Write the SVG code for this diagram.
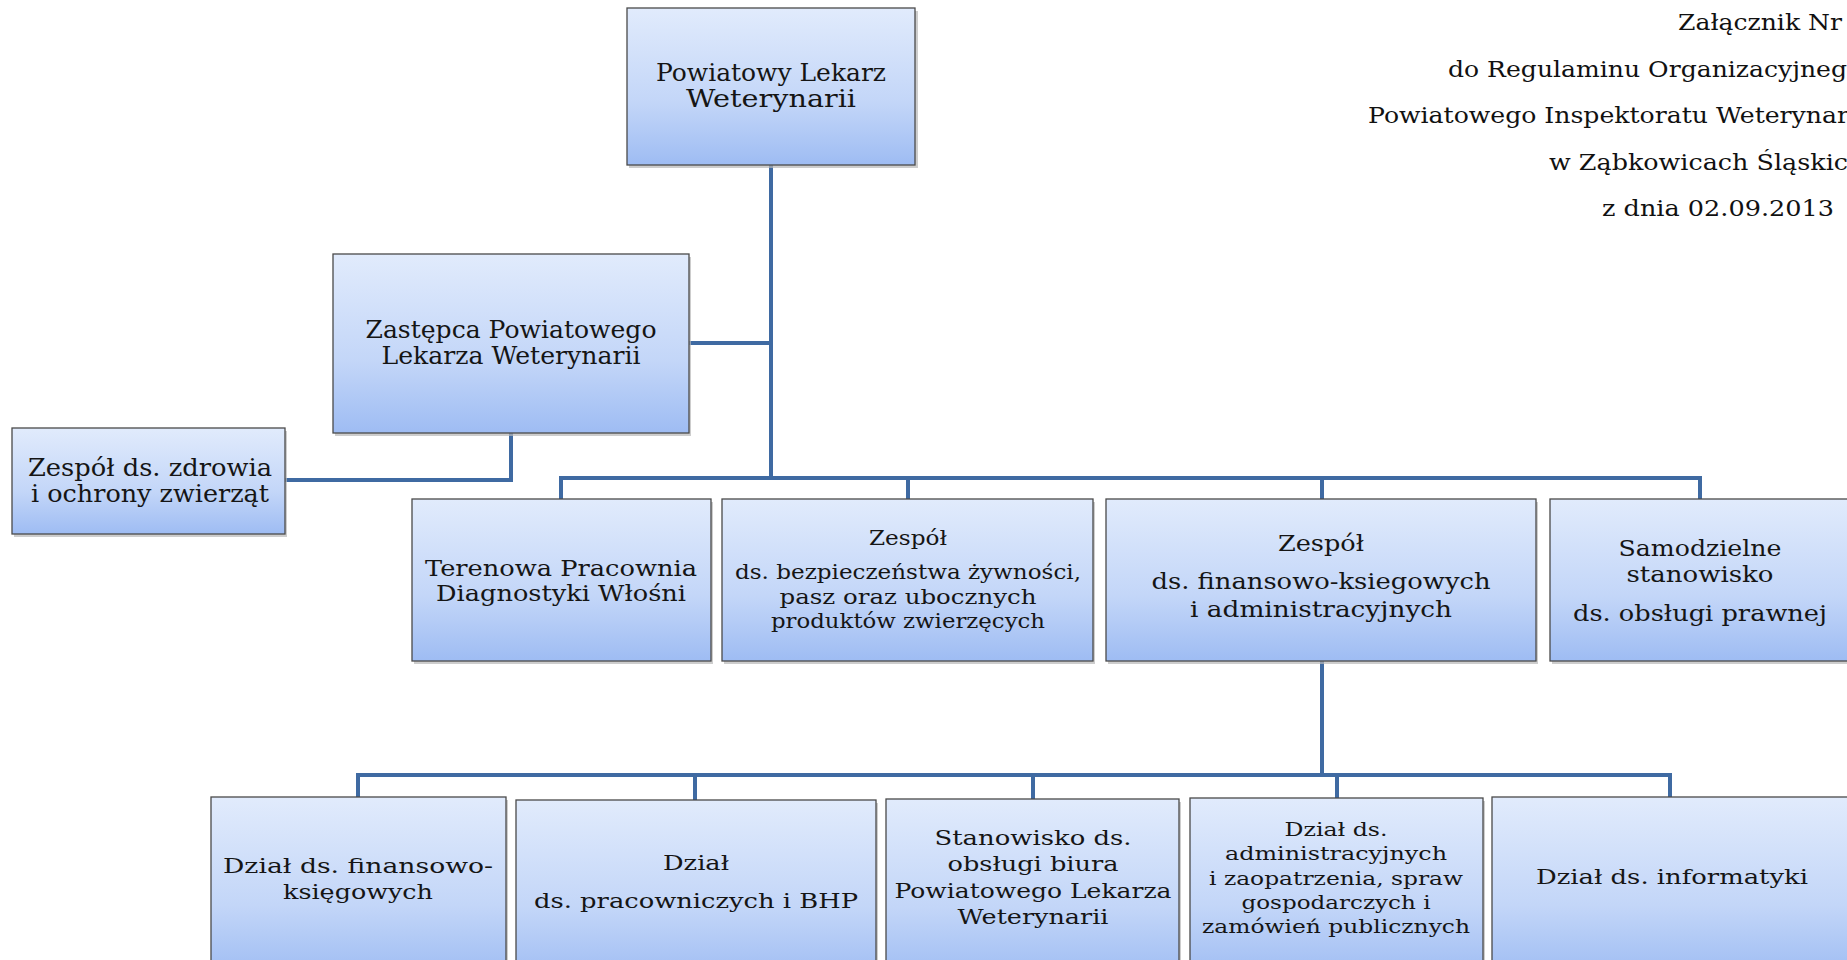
<svg xmlns="http://www.w3.org/2000/svg" width="1847" height="960" viewBox="0 0 1847 960">
<defs>
<linearGradient id="g" x1="0" y1="0" x2="0" y2="1">
<stop offset="0" stop-color="#e1ebfc"/>
<stop offset="0.6" stop-color="#c3d6f8"/>
<stop offset="1" stop-color="#9ebcf3"/>
</linearGradient>
<style>
.box{fill:url(#g);stroke:#4a4a4a;stroke-width:1.3}
.sh{fill:#b8b8b8;opacity:0.7}
.t{font-family:"DejaVu Serif","Liberation Serif",serif;fill:#151515;text-anchor:middle}
.h{font-family:"DejaVu Serif","Liberation Serif",serif;fill:#111;font-size:23px}
.c{fill:none;stroke:#3f6aa2;stroke-width:4;stroke-linejoin:miter}
</style>
</defs>
<rect width="1847" height="960" fill="#fff"/>

<g id="header">
<text class="h" x="1678" y="30" textLength="164" lengthAdjust="spacingAndGlyphs">Załącznik Nr</text>
<text class="h" x="1448" y="77" textLength="399" lengthAdjust="spacingAndGlyphs">do Regulaminu Organizacyjneg</text>
<text class="h" x="1368" y="123" textLength="481" lengthAdjust="spacingAndGlyphs">Powiatowego Inspektoratu Weterynar</text>
<text class="h" x="1549" y="170" textLength="299" lengthAdjust="spacingAndGlyphs">w Ząbkowicach Śląskic</text>
<text class="h" x="1602" y="216" textLength="232" lengthAdjust="spacingAndGlyphs">z dnia 02.09.2013</text>
</g>

<g id="connectors">
<path class="c" d="M771 165 V478"/>
<path class="c" d="M689 343 H771"/>
<path class="c" d="M561 499 V478 H1700 V499"/>
<path class="c" d="M908 478 V499"/>
<path class="c" d="M1322 478 V499"/>
<path class="c" d="M511 433 V480 H285"/>
<path class="c" d="M1322 661 V775"/>
<path class="c" d="M358 797 V775 H1670 V797"/>
<path class="c" d="M695 775 V800"/>
<path class="c" d="M1033 775 V799"/>
<path class="c" d="M1337 775 V798"/>
</g>

<g id="n-plw">
<rect class="sh" x="629" y="11" width="289" height="157"/>
<rect class="box" x="627" y="8" width="288" height="157"/>
<text class="t" font-size="24" x="771" y="81" textLength="230" lengthAdjust="spacingAndGlyphs">Powiatowy Lekarz</text>
<text class="t" font-size="24" x="771" y="107" textLength="170" lengthAdjust="spacingAndGlyphs">Weterynarii</text>
</g>

<g id="n-zastepca">
<rect class="sh" x="335" y="257" width="356" height="179"/>
<rect class="box" x="333" y="254" width="356" height="179"/>
<text class="t" font-size="24" x="511" y="338" textLength="291" lengthAdjust="spacingAndGlyphs">Zastępca Powiatowego</text>
<text class="t" font-size="24" x="511" y="364" textLength="259" lengthAdjust="spacingAndGlyphs">Lekarza Weterynarii</text>
</g>

<g id="n-zdrowie">
<rect class="sh" x="14" y="431" width="273" height="106"/>
<rect class="box" x="12" y="428" width="273" height="106"/>
<text class="t" font-size="24" x="150" y="476" textLength="244" lengthAdjust="spacingAndGlyphs">Zespół ds. zdrowia</text>
<text class="t" font-size="24" x="150" y="502" textLength="238" lengthAdjust="spacingAndGlyphs">i ochrony zwierząt</text>
</g>

<g id="n-terenowa">
<rect class="sh" x="414" y="502" width="299" height="162"/>
<rect class="box" x="412" y="499" width="299" height="162"/>
<text class="t" font-size="22" x="561" y="576" textLength="272" lengthAdjust="spacingAndGlyphs">Terenowa Pracownia</text>
<text class="t" font-size="22" x="561" y="601" textLength="250" lengthAdjust="spacingAndGlyphs">Diagnostyki Włośni</text>
</g>

<g id="n-bezp">
<rect class="sh" x="724" y="502" width="371" height="162"/>
<rect class="box" x="722" y="499" width="371" height="162"/>
<text class="t" font-size="20" x="908" y="545" textLength="78" lengthAdjust="spacingAndGlyphs">Zespół</text>
<text class="t" font-size="20" x="908" y="579" textLength="346" lengthAdjust="spacingAndGlyphs">ds. bezpieczeństwa żywności,</text>
<text class="t" font-size="20" x="908" y="604" textLength="257" lengthAdjust="spacingAndGlyphs">pasz oraz ubocznych</text>
<text class="t" font-size="20" x="908" y="628" textLength="274" lengthAdjust="spacingAndGlyphs">produktów zwierzęcych</text>
</g>

<g id="n-finadm">
<rect class="sh" x="1108" y="502" width="430" height="162"/>
<rect class="box" x="1106" y="499" width="430" height="162"/>
<text class="t" font-size="22" x="1321" y="551" textLength="86" lengthAdjust="spacingAndGlyphs">Zespół</text>
<text class="t" font-size="22" x="1321" y="589" textLength="339" lengthAdjust="spacingAndGlyphs">ds. finansowo-ksiegowych</text>
<text class="t" font-size="22" x="1321" y="617" textLength="262" lengthAdjust="spacingAndGlyphs">i administracyjnych</text>
</g>

<g id="n-prawna">
<rect class="sh" x="1552" y="502" width="310" height="162"/>
<rect class="box" x="1550" y="499" width="310" height="162"/>
<text class="t" font-size="22" x="1700" y="556" textLength="163" lengthAdjust="spacingAndGlyphs">Samodzielne</text>
<text class="t" font-size="22" x="1700" y="582" textLength="147" lengthAdjust="spacingAndGlyphs">stanowisko</text>
<text class="t" font-size="22" x="1700" y="621" textLength="254" lengthAdjust="spacingAndGlyphs">ds. obsługi prawnej</text>
</g>

<g id="n-finks">
<rect class="sh" x="213" y="800" width="295" height="180"/>
<rect class="box" x="211" y="797" width="295" height="180"/>
<text class="t" font-size="21" x="358" y="873" textLength="270" lengthAdjust="spacingAndGlyphs">Dział  ds. finansowo-</text>
<text class="t" font-size="21" x="358" y="899" textLength="150" lengthAdjust="spacingAndGlyphs">księgowych</text>
</g>

<g id="n-pracow">
<rect class="sh" x="518" y="803" width="360" height="180"/>
<rect class="box" x="516" y="800" width="360" height="180"/>
<text class="t" font-size="21" x="696" y="870" textLength="66" lengthAdjust="spacingAndGlyphs">Dział</text>
<text class="t" font-size="21" x="696" y="908" textLength="324" lengthAdjust="spacingAndGlyphs">ds. pracowniczych i BHP</text>
</g>

<g id="n-biuro">
<rect class="sh" x="888" y="802" width="293" height="180"/>
<rect class="box" x="886" y="799" width="293" height="180"/>
<text class="t" font-size="21" x="1033" y="845" textLength="197" lengthAdjust="spacingAndGlyphs">Stanowisko ds.</text>
<text class="t" font-size="21" x="1033" y="871" textLength="171" lengthAdjust="spacingAndGlyphs">obsługi biura</text>
<text class="t" font-size="21" x="1033" y="898" textLength="277" lengthAdjust="spacingAndGlyphs">Powiatowego Lekarza</text>
<text class="t" font-size="21" x="1033" y="924" textLength="151" lengthAdjust="spacingAndGlyphs">Weterynarii</text>
</g>

<g id="n-admin">
<rect class="sh" x="1192" y="801" width="293" height="180"/>
<rect class="box" x="1190" y="798" width="293" height="180"/>
<text class="t" font-size="19" x="1336" y="836" textLength="103" lengthAdjust="spacingAndGlyphs">Dział ds.</text>
<text class="t" font-size="19" x="1336" y="860" textLength="222" lengthAdjust="spacingAndGlyphs">administracyjnych</text>
<text class="t" font-size="19" x="1336" y="885" textLength="254" lengthAdjust="spacingAndGlyphs">i zaopatrzenia, spraw</text>
<text class="t" font-size="19" x="1336" y="909" textLength="189" lengthAdjust="spacingAndGlyphs">gospodarczych i</text>
<text class="t" font-size="19" x="1336" y="933" textLength="268" lengthAdjust="spacingAndGlyphs">zamówień publicznych</text>
</g>

<g id="n-informatyka">
<rect class="sh" x="1494" y="800" width="365" height="180"/>
<rect class="box" x="1492" y="797" width="365" height="180"/>
<text class="t" font-size="21" x="1672" y="884" textLength="272" lengthAdjust="spacingAndGlyphs">Dział ds. informatyki</text>
</g>
</svg>
